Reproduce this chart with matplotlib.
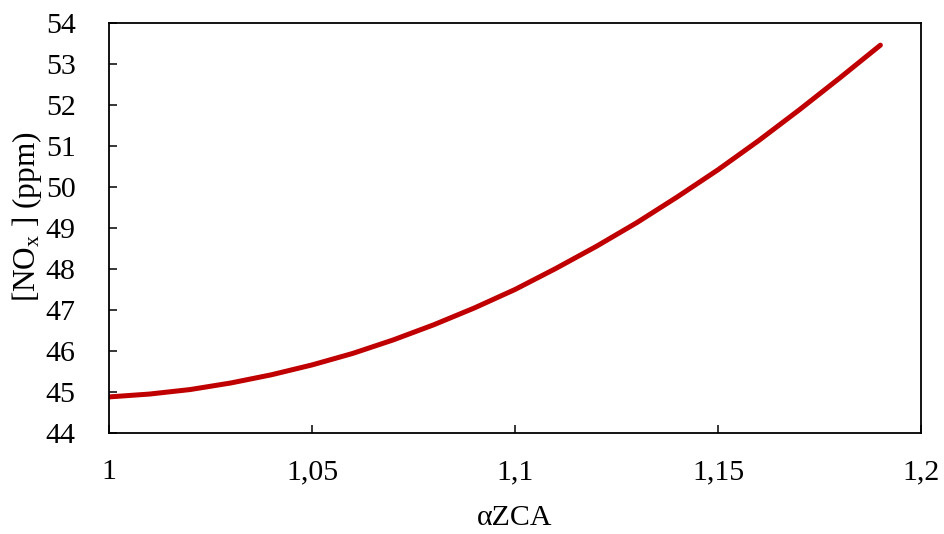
import matplotlib
matplotlib.use('Agg')
import matplotlib.pyplot as plt
from matplotlib.ticker import FuncFormatter

plt.rcParams['font.family'] = ['Liberation Serif', 'DejaVu Serif']
plt.rcParams['mathtext.fontset'] = 'custom'
plt.rcParams['mathtext.rm'] = 'Liberation Serif'
plt.rcParams['mathtext.it'] = 'Liberation Serif:italic'

# valeurs
alpha = [1.00, 1.01, 1.02, 1.03, 1.04, 1.05, 1.06, 1.07, 1.08, 1.09,
         1.10, 1.11, 1.12, 1.13, 1.14, 1.15, 1.16, 1.17, 1.18, 1.19]
nox = [44.88, 44.95, 45.06, 45.22, 45.42, 45.66, 45.94, 46.27, 46.64, 47.05,
       47.50, 48.01, 48.55, 49.13, 49.76, 50.42, 51.13, 51.88, 52.66, 53.46]

xticks = [1.0, 1.05, 1.1, 1.15, 1.2]
yticks = list(range(44, 55))

fig = plt.figure(figsize=(9.44, 5.34), dpi=100)
ax = fig.add_axes([109/944, 1-433/534, (921-109)/944, (433-23)/534])

ax.plot(alpha, nox, color='#C00000', lw=3.6, solid_capstyle='round')

ax.set_xlim(1.0, 1.2)
ax.set_ylim(44, 54)
ax.set_xticks(xticks)
ax.set_yticks(yticks)
ax.xaxis.set_major_formatter(FuncFormatter(lambda v, p: f'{v:g}'.replace('.', ',')))
ax.tick_params(direction='in', length=6, width=1.1, labelsize=21.5, colors='black')
ax.tick_params(axis='x', pad=19)
ax.tick_params(axis='y', pad=24)
for s in ax.spines.values():
    s.set_linewidth(1.3)

ax.set_xlabel('αZCA', fontsize=21.5, labelpad=14)
ax.set_ylabel(r'[NO$_\mathrm{x}$ ] (ppm)', fontsize=22.5, va='center')
ax.yaxis.set_label_coords(-0.101, 0.527)

fig.savefig('out.png', dpi=100)
